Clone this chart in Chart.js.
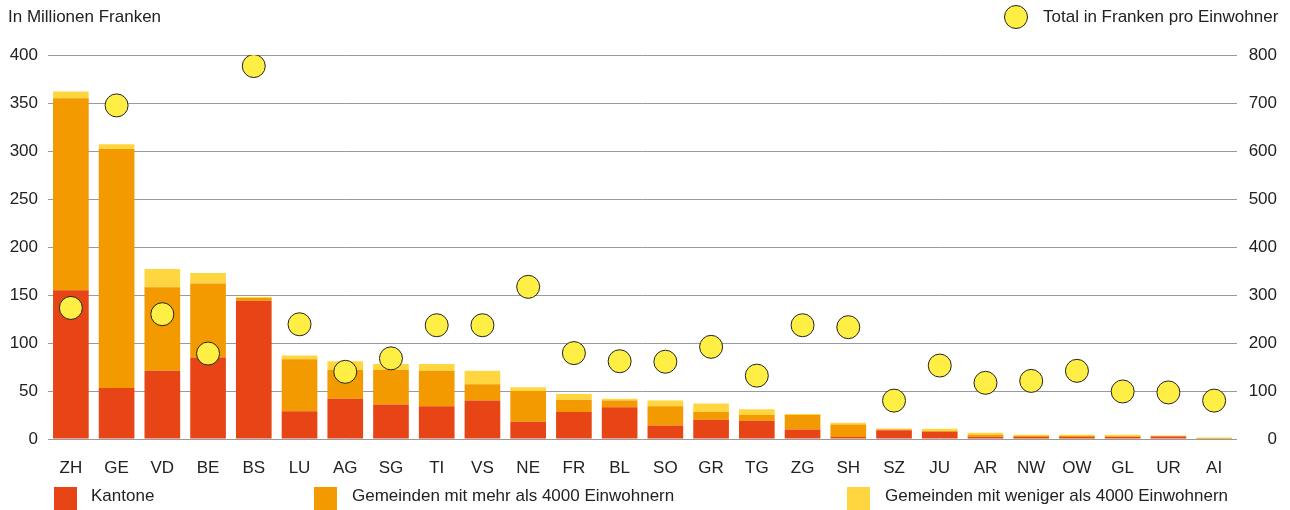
<!DOCTYPE html>
<html>
<head>
<meta charset="utf-8">
<script src="https://cdn.jsdelivr.net/npm/chart.js@4"></script>
<style>
    html, body { margin: 0; padding: 0; background: #fff; }
    #wrap { position: relative; width: 1290px; height: 510px; font-family: 'Liberation Sans', Arial, sans-serif; color: #222; }
    canvas { position: absolute; left: 0; top: 0; }
    .lbl { position: absolute; font-size: 17px; white-space: nowrap; }
    .sq { position: absolute; width: 23px; height: 23px; }
    .dot { position: absolute; width: 22px; height: 22px; border-radius: 50%; background: #FFEE44; border: 1px solid #222; }
</style>
</head>
<body>
<div id="wrap">
    <canvas id="chart" width="1290" height="510"></canvas>
    <div class="lbl" style="left:8px; top:7px;">In Millionen Franken</div>
    <div class="dot" style="left:1004px; top:5px;"></div>
    <div class="lbl" style="left:1043px; top:7px;">Total in Franken pro Einwohner</div>
    <div class="sq" style="left:54px; top:487px; background:#E84516;"></div>
    <div class="lbl" style="left:91px; top:486px;">Kantone</div>
    <div class="sq" style="left:314px; top:487px; background:#F29A00;"></div>
    <div class="lbl" style="left:352px; top:486px;">Gemeinden mit mehr als 4000 Einwohnern</div>
    <div class="sq" style="left:847px; top:487px; background:#FFD640;"></div>
    <div class="lbl" style="left:885px; top:486px;">Gemeinden mit weniger als 4000 Einwohnern</div>
</div>
<script>
// Cantons, sorted by total
const cantons = ['ZH', 'GE', 'VD', 'BE', 'BS', 'LU', 'AG', 'SG', 'TI', 'VS', 'NE', 'FR', 'BL',
    'SO', 'GR', 'TG', 'ZG', 'SH', 'SZ', 'JU', 'AR', 'NW', 'OW', 'GL', 'UR', 'AI'];

// Millions of francs
const kantone = [155, 53, 71, 85, 144, 29, 42, 36, 34, 40, 18, 28, 33, 14, 20, 19, 10, 2, 9, 7.5, 2.4, 2, 2, 2, 2.5, 0.3];
const gemeindenGross = [200, 249, 87, 77, 3, 54, 30, 36, 37, 17, 32, 13, 7, 20, 8, 6, 15, 13, 1, 0.8, 1.8, 1.1, 1.2, 0.8, 0.5, 0];
const gemeindenKlein = [7, 5, 19, 11, 1, 4, 9, 6, 7, 14, 4, 6, 2, 6, 9, 6, 1, 2, 1, 2.5, 2.4, 1.4, 1.3, 1.7, 0.7, 1.2];

// Francs per inhabitant (right axis)
const proEinwohner = [273, 695, 260, 178, 777, 239, 140, 168, 237, 237, 317, 179, 162, 161, 192, 132, 237, 233, 80, 153, 117, 121, 142, 99, 97, 80];

const leftTicks = [0, 50, 100, 150, 200, 250, 300, 350, 400];
const rightTicks = [0, 100, 200, 300, 400, 500, 600, 700, 800];

const tickFont = { family: "'Liberation Sans', Arial, sans-serif", size: 17 };
const gridColor = '#9a9a9a';

new Chart(document.getElementById('chart'), {
    data: {
        labels: cantons,
        datasets: [
            {
                type: 'line',
                label: 'Total in Franken pro Einwohner',
                data: proEinwohner,
                yAxisID: 'y2',
                showLine: false,
                pointRadius: 11.5,
                pointBackgroundColor: '#FFEE44',
                pointBorderColor: '#222',
                pointBorderWidth: 1,
                order: 0
            },
            { type: 'bar', label: 'Kantone', data: kantone, backgroundColor: '#E84516', order: 1 },
            { type: 'bar', label: 'Gemeinden mit mehr als 4000 Einwohnern', data: gemeindenGross, backgroundColor: '#F29A00', order: 1 },
            { type: 'bar', label: 'Gemeinden mit weniger als 4000 Einwohnern', data: gemeindenKlein, backgroundColor: '#FFD640', order: 1 }
        ]
    },
    options: {
        responsive: false,
        animation: false,
        layout: { padding: { top: 55, bottom: 0, left: 0, right: 13 } },
        datasets: { bar: { categoryPercentage: 0.78, barPercentage: 1 } },
        plugins: { legend: { display: false }, tooltip: { enabled: false } },
        scales: {
            x: {
                stacked: true,
                grid: { display: false },
                border: { display: false },
                ticks: { color: '#222', font: tickFont, padding: 11 },
                afterFit: s => { s.height = 71; }
            },
            y: {
                stacked: true,
                min: 0,
                max: 400,
                afterBuildTicks: s => { s.ticks = leftTicks.map(v => ({ value: v })); },
                grid: { color: gridColor, drawTicks: false },
                border: { display: false },
                ticks: { color: '#222', font: tickFont, padding: 10 },
                afterFit: s => { s.width = 48; }
            },
            y2: {
                position: 'right',
                min: 0,
                max: 800,
                afterBuildTicks: s => { s.ticks = rightTicks.map(v => ({ value: v })); },
                grid: { display: false },
                border: { display: false },
                ticks: { color: '#222', font: tickFont, padding: 10, crossAlign: 'far' },
                afterFit: s => { s.width = 40; }
            }
        }
    }
});
</script>
</body>
</html>
